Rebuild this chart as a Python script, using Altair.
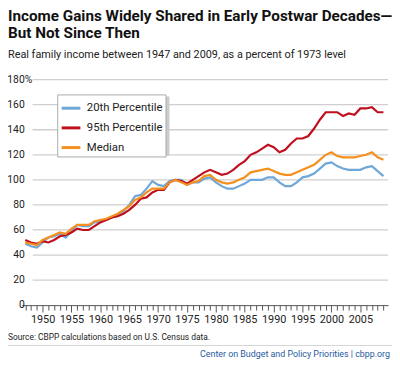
import altair as alt
import pandas as pd

years = list(range(1947, 2010))

p20 = [49, 47, 46, 50, 54, 55, 57, 54, 59, 64, 63, 63, 66, 67, 68, 70, 72, 75, 80, 87,
       88, 93, 99, 96, 95, 99, 100, 100, 96, 98, 98, 101, 102, 98, 95, 93, 93, 95, 97, 100,
       100, 100, 102, 102, 98, 95, 95, 98, 102, 103, 105, 109, 113, 114, 111, 109, 108, 108, 108, 110,
       111, 107, 103]
p95 = [52, 50, 49, 51, 50, 52, 55, 56, 58, 61, 60, 60, 63, 66, 68, 70, 71, 73, 76, 80,
       85, 86, 90, 92, 92, 98, 100, 99, 97, 100, 103, 106, 108, 106, 104, 105, 108, 112, 115, 120,
       122, 125, 128, 126, 122, 124, 129, 133, 133, 135, 141, 148, 154, 154, 154, 151, 153, 152, 157, 157,
       158, 154, 154]
median = [50, 49, 48, 52, 54, 56, 58, 57, 61, 64, 64, 64, 67, 68, 69, 71, 73, 76, 79, 84,
          86, 90, 93, 93, 93, 98, 100, 98, 96, 98, 99, 103, 104, 100, 98, 97, 98, 100, 102, 106,
          107, 108, 109, 107, 105, 104, 104, 106, 108, 110, 112, 116, 120, 122, 119, 118, 118, 118, 119, 120,
          122, 118, 116]

series_names = ["20th Percentile", "95th Percentile", "Median"]
series_colors = ["#6ea7d8", "#c00f1d", "#f5901e"]

y_ticks = [0, 20, 40, 60, 80, 100, 120, 140, 160, 180]
x_tick_years = list(range(1947, 2011))

title_lines = ["Income Gains Widely Shared in Early Postwar Decades\u2014", "But Not Since Then"]
subtitle = "Real family income between 1947 and 2009, as a percent of 1973 level"
source = "Source: CBPP calculations based on U.S. Census data."
footer = "Center on Budget and Policy Priorities | cbpp.org"

FONT = "Roboto, Liberation Sans, sans-serif"

W, H = 372, 229
xscale = alt.Scale(domain=[1946.4, 2009.8], nice=False, zero=False)
yscale = alt.Scale(domain=[0, 180], nice=False)

rows = []
for name, vals in zip(series_names, [p20, p95, median]):
    for yr, v in zip(years, vals):
        rows.append({"year": yr, "value": v, "series": name})
df = pd.DataFrame(rows)

grid = alt.Chart(pd.DataFrame({"v": [t for t in y_ticks if t > 0]})).mark_rule(
    color="#cfcfcf", strokeWidth=1.3
).encode(
    y=alt.Y("v:Q", scale=yscale, axis=None),
    x=alt.value(11), x2=alt.value(W),
)

shadow = alt.Chart(pd.DataFrame({"a": [0]})).mark_rect(color="#cccccc").encode(
    x=alt.value(38), x2=alt.value(150), y=alt.value(17), y2=alt.value(77)
)

lines = alt.Chart(df).mark_line(strokeWidth=2.2).encode(
    x=alt.X("year:Q", scale=xscale, title=None,
            axis=alt.Axis(values=x_tick_years, grid=False, domainColor="#555", tickColor="#555",
                          tickSize={"condition": {"test": "datum.value % 5 === 0", "value": 7}, "value": 5},
                          labelExpr="datum.value % 5 === 0 && datum.value < 2010 ? datum.value : ''",
                          labelFont=FONT, labelFontSize=11, labelColor="#222", labelPadding=2,
                          labelFlush=False, labelOverlap=False, domainWidth=1)),
    y=alt.Y("value:Q", scale=yscale, axis=None),
    color=alt.Color("series:N", scale=alt.Scale(domain=series_names, range=series_colors),
                    sort=series_names,
                    legend=alt.Legend(orient="none", legendX=36, legendY=15, title=None,
                                      fillColor="white", strokeColor="#aaaaaa", padding=3,
                                      symbolType="stroke", symbolStrokeWidth=3, symbolSize=361,
                                      labelFont=FONT, labelFontSize=11.5, labelColor="#222",
                                      labelOffset=5, rowPadding=3, symbolOffset=0)),
    detail="series:N",
)

ylab = alt.Chart(pd.DataFrame({"v": y_ticks, "t": [str(t) for t in y_ticks]})).mark_text(
    align="right", baseline="middle", font=FONT, fontSize=10.5, color="#222"
).encode(y=alt.Y("v:Q", scale=yscale, axis=None), x=alt.value(3), text="t:N")

pct = alt.Chart(pd.DataFrame({"v": [180], "t": ["%"]})).mark_text(
    align="left", baseline="middle", font=FONT, fontSize=10.5, color="#222"
).encode(y=alt.Y("v:Q", scale=yscale, axis=None), x=alt.value(3), text="t:N")


def label(text, x, y, size, weight="normal", color="#222", align="left"):
    return alt.Chart(pd.DataFrame({"t": [text]})).mark_text(
        align=align, baseline="alphabetic", font=FONT, fontSize=size, fontWeight=weight, color=color
    ).encode(x=alt.value(x), y=alt.value(y), text="t:N")


t1 = label(title_lines[0], -14, -60, 15.5, "bold", "#111")
t2 = label(title_lines[1], -14, -42, 15.5, "bold", "#111")
st = label(subtitle, -14, -22, 11)
src = label(source, -14, 264, 8.5, color="#222")
foot = label(footer, 374, 282, 9, color="#1f5a9e", align="right")
sep = alt.Chart(pd.DataFrame({"a": [0]})).mark_rule(color="#d5d5d5", strokeWidth=1).encode(
    x=alt.value(-14), x2=alt.value(376), y=alt.value(270)
)

chart = alt.layer(grid, shadow, lines, ylab, pct, t1, t2, st, src, sep, foot).properties(
    width=W, height=H,
    autosize=alt.AutoSizeParams(type="none"),
    padding={"left": 14, "top": 70, "right": 4, "bottom": 55},
).configure_view(stroke=None).resolve_scale(color="independent")

chart.save("out.html", embed_options={"renderer": "svg", "actions": False})
